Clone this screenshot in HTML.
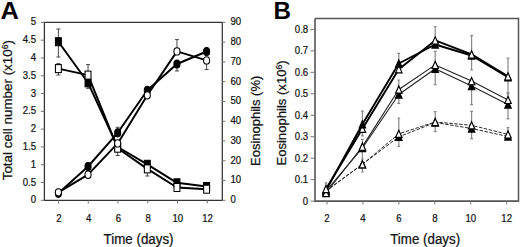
<!DOCTYPE html>
<html><head><meta charset="utf-8"><style>
html,body{margin:0;padding:0;background:#fff;}
svg{display:block;}
</style></head><body>
<svg xmlns="http://www.w3.org/2000/svg" width="520" height="247" viewBox="0 0 520 247">
<rect width="520" height="247" fill="#fff"/>
<path d="M44.4,22.4H222.3V200.3H44.4Z" stroke="#333" stroke-width="1.25" fill="none"/>
<path d="M315.0,18.5H518.0M315.0,18.5V201.1H518.0" stroke="#555" stroke-width="1.6" fill="none"/>
<path d="M518.5,17.7V201.85" stroke="#555" stroke-width="1.5" fill="none"/>
<path d="M40.80,200.30H44.4M40.80,182.51H44.4M40.80,164.72H44.4M40.80,146.93H44.4M40.80,129.14H44.4M40.80,111.35H44.4M40.80,93.56H44.4M40.80,75.77H44.4M40.80,57.98H44.4M40.80,40.19H44.4M40.80,22.40H44.4M222.3,200.30H225.50M222.3,180.53H225.50M222.3,160.77H225.50M222.3,141.00H225.50M222.3,121.23H225.50M222.3,101.47H225.50M222.3,81.70H225.50M222.3,61.93H225.50M222.3,42.17H225.50M222.3,22.40H225.50M58.50,200.3V203.50M88.26,200.3V203.50M118.02,200.3V203.50M147.78,200.3V203.50M177.54,200.3V203.50M207.30,200.3V203.50M310.50,201.10H315.0M310.50,179.64H315.0M310.50,158.18H315.0M310.50,136.71H315.0M310.50,115.25H315.0M310.50,93.79H315.0M310.50,72.32H315.0M310.50,50.86H315.0M310.50,29.40H315.0M327.00,201.1V204.40M362.94,201.1V204.40M398.88,201.1V204.40M434.82,201.1V204.40M470.76,201.1V204.40M506.70,201.1V204.40" stroke="#777" stroke-width="1" fill="none"/>
<g font-family='"Liberation Sans", sans-serif' font-size="9.6" fill="#111" stroke="#111" stroke-width="0.2"><text transform="translate(36.00,203.30) scale(1,1.13)" text-anchor="end">0</text><text transform="translate(36.00,185.51) scale(1,1.13)" text-anchor="end">0.5</text><text transform="translate(36.00,167.72) scale(1,1.13)" text-anchor="end">1</text><text transform="translate(36.00,149.93) scale(1,1.13)" text-anchor="end">1.5</text><text transform="translate(36.00,132.14) scale(1,1.13)" text-anchor="end">2</text><text transform="translate(36.00,114.35) scale(1,1.13)" text-anchor="end">2.5</text><text transform="translate(36.00,96.56) scale(1,1.13)" text-anchor="end">3</text><text transform="translate(36.00,78.77) scale(1,1.13)" text-anchor="end">3.5</text><text transform="translate(36.00,60.98) scale(1,1.13)" text-anchor="end">4</text><text transform="translate(36.00,43.19) scale(1,1.13)" text-anchor="end">4.5</text><text transform="translate(36.00,25.40) scale(1,1.13)" text-anchor="end">5</text><text transform="translate(230.40,203.10) scale(1,1.13)">0</text><text transform="translate(230.40,183.33) scale(1,1.13)">10</text><text transform="translate(230.40,163.57) scale(1,1.13)">20</text><text transform="translate(230.40,143.80) scale(1,1.13)">30</text><text transform="translate(230.40,124.03) scale(1,1.13)">40</text><text transform="translate(230.40,104.27) scale(1,1.13)">50</text><text transform="translate(230.40,84.50) scale(1,1.13)">60</text><text transform="translate(230.40,64.73) scale(1,1.13)">70</text><text transform="translate(230.40,44.97) scale(1,1.13)">80</text><text transform="translate(230.40,25.20) scale(1,1.13)">90</text><text transform="translate(58.80,221.50) scale(1,1.13)" text-anchor="middle">2</text><text transform="translate(88.56,221.50) scale(1,1.13)" text-anchor="middle">4</text><text transform="translate(118.32,221.50) scale(1,1.13)" text-anchor="middle">6</text><text transform="translate(148.08,221.50) scale(1,1.13)" text-anchor="middle">8</text><text transform="translate(177.84,221.50) scale(1,1.13)" text-anchor="middle">10</text><text transform="translate(207.60,221.50) scale(1,1.13)" text-anchor="middle">12</text><text transform="translate(308.20,204.60) scale(1,1.13)" text-anchor="end">0</text><text transform="translate(308.20,183.14) scale(1,1.13)" text-anchor="end">0.1</text><text transform="translate(308.20,161.68) scale(1,1.13)" text-anchor="end">0.2</text><text transform="translate(308.20,140.21) scale(1,1.13)" text-anchor="end">0.3</text><text transform="translate(308.20,118.75) scale(1,1.13)" text-anchor="end">0.4</text><text transform="translate(308.20,97.29) scale(1,1.13)" text-anchor="end">0.5</text><text transform="translate(308.20,75.82) scale(1,1.13)" text-anchor="end">0.6</text><text transform="translate(308.20,54.36) scale(1,1.13)" text-anchor="end">0.7</text><text transform="translate(308.20,32.90) scale(1,1.13)" text-anchor="end">0.8</text><text transform="translate(327.00,221.50) scale(1,1.13)" text-anchor="middle">2</text><text transform="translate(362.94,221.50) scale(1,1.13)" text-anchor="middle">4</text><text transform="translate(398.88,221.50) scale(1,1.13)" text-anchor="middle">6</text><text transform="translate(434.82,221.50) scale(1,1.13)" text-anchor="middle">8</text><text transform="translate(470.76,221.50) scale(1,1.13)" text-anchor="middle">10</text><text transform="translate(506.70,221.50) scale(1,1.13)" text-anchor="middle">12</text></g>
<g font-family='"Liberation Sans", sans-serif' fill="#111" stroke="#111" stroke-width="0.22">
<text font-size="13.35" transform="translate(103.6,243.9) scale(1,1.05)">Time (days)</text>
<text font-size="13.35" transform="translate(390.2,243.9) scale(1,1.05)">Time (days)</text>
<text font-size="13.4" transform="translate(12.0,180.3) rotate(-90)">Total cell number (x10<tspan font-size="8.6" dy="-4">6</tspan><tspan dy="4">)</tspan></text>
<text font-size="13.0" transform="translate(259.9,166.0) rotate(-90)">Eosinophils (%)</text>
<text font-size="13.1" transform="translate(285.9,165.6) rotate(-90)">Eosinophils (x10<tspan font-size="8.6" dy="-4">6</tspan><tspan dy="4">)</tspan></text>
</g>
<g font-family='"Liberation Sans", sans-serif' font-weight="bold" fill="#000">
<text x="0.2" y="18.7" font-size="24.5" transform="translate(0.2,0) scale(1.04,1)">A</text><text x="273.6" y="18.9" font-size="24.2">B</text>
</g>
<path d="M58.40,29V57M56.40,29h4.0M56.40,57h4.0M58.40,63.6V75M56.40,63.6h4.0M56.40,75h4.0M88.04,64.6V79M86.04,64.6h4.0M86.04,79h4.0M88.04,83V88.3M86.04,83h4.0M86.04,88.3h4.0M117.68,127.3V134M115.68,127.3h4.0M115.68,134h4.0M117.68,148.2V155.5M115.68,148.2h4.0M115.68,155.5h4.0M147.32,169V176M145.32,169h4.0M145.32,176h4.0M176.96,39.6V51M174.96,39.6h4.0M174.96,51h4.0M176.96,63.2V71M174.96,63.2h4.0M174.96,71h4.0M206.60,60.4V69.5M204.60,60.4h4.0M204.60,69.5h4.0" stroke="#333" stroke-width="0.9" fill="none"/>
<polyline points="58.40,41.70 88.04,82.80 117.68,147.00 147.32,164.30 176.96,182.80 206.60,186.50" fill="none" stroke="#000" stroke-width="1.95" stroke-linejoin="round"/>
<polyline points="58.40,68.60 88.04,75.10 117.68,148.20 147.32,168.90 176.96,187.50 206.60,189.20" fill="none" stroke="#000" stroke-width="1.95" stroke-linejoin="round"/>
<polyline points="58.40,193.30 88.04,166.50 117.68,132.80 147.32,90.30 176.96,64.00 206.60,51.50" fill="none" stroke="#000" stroke-width="1.95" stroke-linejoin="round"/>
<polyline points="58.40,192.30 88.04,174.70 117.68,143.40 147.32,95.30 176.96,51.40 206.60,60.40" fill="none" stroke="#000" stroke-width="1.95" stroke-linejoin="round"/>
<rect x="55.45" y="37.70" width="5.9" height="8.0" fill="#000" stroke="#000" stroke-width="1.05"/>
<rect x="85.09" y="78.80" width="5.9" height="8.0" fill="#000" stroke="#000" stroke-width="1.05"/>
<rect x="114.73" y="143.00" width="5.9" height="8.0" fill="#000" stroke="#000" stroke-width="1.05"/>
<rect x="144.37" y="160.30" width="5.9" height="8.0" fill="#000" stroke="#000" stroke-width="1.05"/>
<rect x="174.01" y="178.80" width="5.9" height="8.0" fill="#000" stroke="#000" stroke-width="1.05"/>
<rect x="203.65" y="182.50" width="5.9" height="8.0" fill="#000" stroke="#000" stroke-width="1.05"/>
<rect x="55.45" y="64.60" width="5.9" height="8.0" fill="#fff" stroke="#000" stroke-width="1.05"/>
<rect x="85.09" y="71.10" width="5.9" height="8.0" fill="#fff" stroke="#000" stroke-width="1.05"/>
<rect x="114.73" y="144.20" width="5.9" height="8.0" fill="#fff" stroke="#000" stroke-width="1.05"/>
<rect x="144.37" y="164.90" width="5.9" height="8.0" fill="#fff" stroke="#000" stroke-width="1.05"/>
<rect x="174.01" y="183.50" width="5.9" height="8.0" fill="#fff" stroke="#000" stroke-width="1.05"/>
<rect x="203.65" y="185.20" width="5.9" height="8.0" fill="#fff" stroke="#000" stroke-width="1.05"/>
<ellipse cx="58.40" cy="193.30" rx="3.05" ry="4.05" fill="#000" stroke="#000" stroke-width="1.05"/>
<ellipse cx="88.04" cy="166.50" rx="3.05" ry="4.05" fill="#000" stroke="#000" stroke-width="1.05"/>
<ellipse cx="117.68" cy="132.80" rx="3.05" ry="4.05" fill="#000" stroke="#000" stroke-width="1.05"/>
<ellipse cx="147.32" cy="90.30" rx="3.05" ry="4.05" fill="#000" stroke="#000" stroke-width="1.05"/>
<ellipse cx="176.96" cy="64.00" rx="3.05" ry="4.05" fill="#000" stroke="#000" stroke-width="1.05"/>
<ellipse cx="206.60" cy="51.50" rx="3.05" ry="4.05" fill="#000" stroke="#000" stroke-width="1.05"/>
<ellipse cx="58.40" cy="192.30" rx="3.05" ry="3.65" fill="#fff" stroke="#000" stroke-width="1.05"/>
<ellipse cx="88.04" cy="174.70" rx="3.05" ry="3.65" fill="#fff" stroke="#000" stroke-width="1.05"/>
<ellipse cx="117.68" cy="143.40" rx="3.05" ry="3.65" fill="#fff" stroke="#000" stroke-width="1.05"/>
<ellipse cx="147.32" cy="95.30" rx="3.05" ry="3.65" fill="#fff" stroke="#000" stroke-width="1.05"/>
<ellipse cx="176.96" cy="51.40" rx="3.05" ry="3.65" fill="#fff" stroke="#000" stroke-width="1.05"/>
<ellipse cx="206.60" cy="60.40" rx="3.05" ry="3.65" fill="#fff" stroke="#000" stroke-width="1.05"/>
<path d="M326.00,182.8V190M324.60,182.8h2.8M324.60,190h2.8M362.40,111.2V124M361.00,111.2h2.8M361.00,124h2.8M362.40,128.8V135.8M361.00,128.8h2.8M361.00,135.8h2.8M398.80,53.4V63M397.40,53.4h2.8M397.40,63h2.8M398.80,94.5V103.3M397.40,94.5h2.8M397.40,103.3h2.8M398.80,118V134M397.40,118h2.8M397.40,134h2.8M398.80,137V146.4M397.40,137h2.8M397.40,146.4h2.8M435.20,26.5V40M433.80,26.5h2.8M433.80,40h2.8M435.20,51.4V64M433.80,51.4h2.8M433.80,64h2.8M435.20,68.7V84.7M433.80,68.7h2.8M433.80,84.7h2.8M435.20,111.7V122M433.80,111.7h2.8M433.80,122h2.8M435.20,122V131.6M433.80,122h2.8M433.80,131.6h2.8M471.60,35.7V55M470.20,35.7h2.8M470.20,55h2.8M471.60,55V70M470.20,55h2.8M470.20,70h2.8M471.60,86V104.7M470.20,86h2.8M470.20,104.7h2.8M471.60,111.4V125M470.20,111.4h2.8M470.20,125h2.8M471.60,128.5V138.7M470.20,128.5h2.8M470.20,138.7h2.8M508.00,58.2V76M506.60,58.2h2.8M506.60,76h2.8M508.00,76V93.9M506.60,76h2.8M506.60,93.9h2.8M508.00,92.6V99M506.60,92.6h2.8M506.60,99h2.8M508.00,104.5V118.9M506.60,104.5h2.8M506.60,118.9h2.8M508.00,127.6V136M506.60,127.6h2.8M506.60,136h2.8M398.80,80V88M397.40,80h2.8M397.40,88h2.8M362.40,139.4V146M361.00,139.4h2.8M361.00,146h2.8M362.40,150V159M361.00,150h2.8M361.00,159h2.8M362.40,165V172M361.00,165h2.8M361.00,172h2.8" stroke="#888" stroke-width="1.2" fill="none"/>
<polyline points="326.00,191.00 362.40,164.30 398.80,136.80 435.20,122.50 471.60,128.50 508.00,136.50" fill="none" stroke="#222" stroke-width="0.95" stroke-linejoin="round" stroke-dasharray="3.5,1.5"/>
<polyline points="326.00,191.00 362.40,164.30 398.80,133.80 435.20,122.00 471.60,125.30 508.00,134.40" fill="none" stroke="#222" stroke-width="0.95" stroke-linejoin="round" stroke-dasharray="3.5,1.5"/>
<polyline points="326.00,191.00 362.40,148.00 398.80,94.50 435.20,68.70 471.60,86.10 508.00,104.50" fill="none" stroke="#222" stroke-width="1.1" stroke-linejoin="round"/>
<polyline points="326.00,193.00 362.40,146.60 398.80,89.50 435.20,64.90 471.60,81.10 508.00,99.90" fill="none" stroke="#222" stroke-width="1.1" stroke-linejoin="round"/>
<polyline points="326.00,190.20 362.40,124.30 398.80,63.50 435.20,44.50 471.60,55.50 508.00,77.20" fill="none" stroke="#000" stroke-width="1.9" stroke-linejoin="round"/>
<polyline points="326.00,189.00 362.40,128.80 398.80,69.20 435.20,40.40 471.60,54.40 508.00,76.40" fill="none" stroke="#000" stroke-width="1.9" stroke-linejoin="round"/>
<path d="M326.00,187.40L329.25,194.60H322.75Z" fill="#000" stroke="#000" stroke-width="1.15" stroke-linejoin="miter"/>
<path d="M326.00,187.40L329.25,194.60H322.75Z" fill="#000" stroke="#000" stroke-width="1.15" stroke-linejoin="miter"/>
<path d="M326.00,186.60L329.25,193.80H322.75Z" fill="#000" stroke="#000" stroke-width="1.15" stroke-linejoin="miter"/>
<path d="M326.00,187.40L329.25,194.60H322.75Z" fill="#fff" stroke="#000" stroke-width="1.15" stroke-linejoin="miter"/>
<path d="M326.00,189.40L329.25,196.60H322.75Z" fill="#fff" stroke="#000" stroke-width="1.15" stroke-linejoin="miter"/>
<path d="M326.00,185.40L329.25,192.60H322.75Z" fill="#fff" stroke="#000" stroke-width="1.15" stroke-linejoin="miter"/>
<path d="M362.40,160.70L365.65,167.90H359.15Z" fill="#000" stroke="#000" stroke-width="1.15" stroke-linejoin="miter"/>
<path d="M362.40,160.70L365.65,167.90H359.15Z" fill="#fff" stroke="#000" stroke-width="1.15" stroke-linejoin="miter"/>
<path d="M398.80,133.20L402.05,140.40H395.55Z" fill="#000" stroke="#000" stroke-width="1.15" stroke-linejoin="miter"/>
<path d="M398.80,130.20L402.05,137.40H395.55Z" fill="#fff" stroke="#000" stroke-width="1.15" stroke-linejoin="miter"/>
<path d="M435.20,118.90L438.45,126.10H431.95Z" fill="#000" stroke="#000" stroke-width="1.15" stroke-linejoin="miter"/>
<path d="M435.20,118.40L438.45,125.60H431.95Z" fill="#fff" stroke="#000" stroke-width="1.15" stroke-linejoin="miter"/>
<path d="M471.60,124.90L474.85,132.10H468.35Z" fill="#000" stroke="#000" stroke-width="1.15" stroke-linejoin="miter"/>
<path d="M471.60,121.70L474.85,128.90H468.35Z" fill="#fff" stroke="#000" stroke-width="1.15" stroke-linejoin="miter"/>
<path d="M508.00,132.90L511.25,140.10H504.75Z" fill="#000" stroke="#000" stroke-width="1.15" stroke-linejoin="miter"/>
<path d="M508.00,130.80L511.25,138.00H504.75Z" fill="#fff" stroke="#000" stroke-width="1.15" stroke-linejoin="miter"/>
<path d="M362.40,144.40L365.65,151.60H359.15Z" fill="#000" stroke="#000" stroke-width="1.15" stroke-linejoin="miter"/>
<path d="M362.40,143.00L365.65,150.20H359.15Z" fill="#fff" stroke="#000" stroke-width="1.15" stroke-linejoin="miter"/>
<path d="M398.80,90.90L402.05,98.10H395.55Z" fill="#000" stroke="#000" stroke-width="1.15" stroke-linejoin="miter"/>
<path d="M398.80,85.90L402.05,93.10H395.55Z" fill="#fff" stroke="#000" stroke-width="1.15" stroke-linejoin="miter"/>
<path d="M435.20,65.10L438.45,72.30H431.95Z" fill="#000" stroke="#000" stroke-width="1.15" stroke-linejoin="miter"/>
<path d="M435.20,61.30L438.45,68.50H431.95Z" fill="#fff" stroke="#000" stroke-width="1.15" stroke-linejoin="miter"/>
<path d="M471.60,82.50L474.85,89.70H468.35Z" fill="#000" stroke="#000" stroke-width="1.15" stroke-linejoin="miter"/>
<path d="M471.60,77.50L474.85,84.70H468.35Z" fill="#fff" stroke="#000" stroke-width="1.15" stroke-linejoin="miter"/>
<path d="M508.00,100.90L511.25,108.10H504.75Z" fill="#000" stroke="#000" stroke-width="1.15" stroke-linejoin="miter"/>
<path d="M508.00,96.30L511.25,103.50H504.75Z" fill="#fff" stroke="#000" stroke-width="1.15" stroke-linejoin="miter"/>
<path d="M362.40,125.20L365.65,132.40H359.15Z" fill="#fff" stroke="#000" stroke-width="1.15" stroke-linejoin="miter"/>
<path d="M362.40,120.70L365.65,127.90H359.15Z" fill="#000" stroke="#000" stroke-width="1.15" stroke-linejoin="miter"/>
<path d="M398.80,65.60L402.05,72.80H395.55Z" fill="#fff" stroke="#000" stroke-width="1.15" stroke-linejoin="miter"/>
<path d="M398.80,59.90L402.05,67.10H395.55Z" fill="#000" stroke="#000" stroke-width="1.15" stroke-linejoin="miter"/>
<path d="M435.20,40.90L438.45,48.10H431.95Z" fill="#000" stroke="#000" stroke-width="1.15" stroke-linejoin="miter"/>
<path d="M435.20,36.80L438.45,44.00H431.95Z" fill="#fff" stroke="#000" stroke-width="1.15" stroke-linejoin="miter"/>
<path d="M471.60,51.90L474.85,59.10H468.35Z" fill="#000" stroke="#000" stroke-width="1.15" stroke-linejoin="miter"/>
<path d="M471.60,50.80L474.85,58.00H468.35Z" fill="#fff" stroke="#000" stroke-width="1.15" stroke-linejoin="miter"/>
<path d="M508.00,73.60L511.25,80.80H504.75Z" fill="#000" stroke="#000" stroke-width="1.15" stroke-linejoin="miter"/>
<path d="M508.00,72.80L511.25,80.00H504.75Z" fill="#fff" stroke="#000" stroke-width="1.15" stroke-linejoin="miter"/>
</svg>
</body></html>
